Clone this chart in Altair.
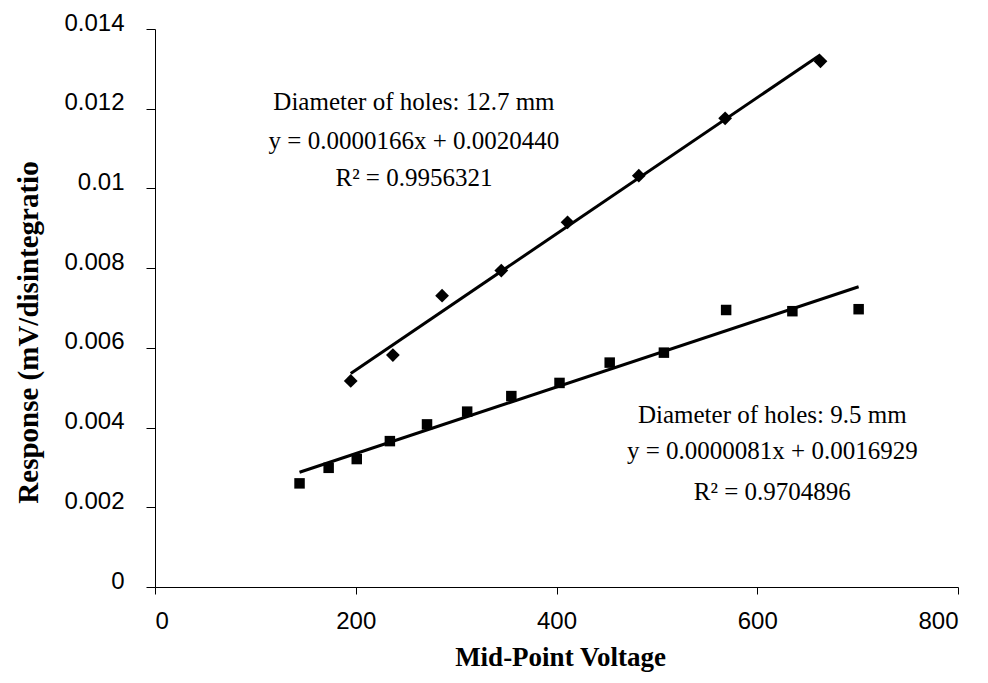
import altair as alt
import pandas as pd

# Series: Diameter of holes 12.7 mm (diamonds)
x_127 = [195, 237, 286, 345, 411, 482, 568, 663]
y_127 = [0.00517, 0.00582, 0.00731, 0.00794, 0.00915, 0.01032, 0.01176, 0.01319]

# Series: Diameter of holes 9.5 mm (squares)
x_95 = [144, 173, 201, 234, 271, 311, 355, 403, 453, 507, 569, 635, 701]
y_95 = [0.0026, 0.00299, 0.00321, 0.00366, 0.00408, 0.0044, 0.00479, 0.00512,
        0.00563, 0.00588, 0.00695, 0.00692, 0.00697]

x_ticks = [0, 200, 400, 600, 800]
y_ticks = [0, 0.002, 0.004, 0.006, 0.008, 0.01, 0.012, 0.014]

ann_text = [
    "Diameter of holes: 12.7 mm", "y = 0.0000166x + 0.0020440", "R² = 0.9956321",
    "Diameter of holes: 9.5 mm", "y = 0.0000081x + 0.0016929", "R² = 0.9704896",
]
ann_x = [258, 258, 258, 615, 615, 615]
ann_y = [0.01197, 0.01099, 0.01006, 0.00412, 0.00321, 0.00218]

df = pd.DataFrame({
    "x": x_127 + x_95,
    "y": y_127 + y_95,
    "series": ["12.7"] * len(x_127) + ["9.5"] * len(x_95),
})
ann = pd.DataFrame({"x": ann_x, "y": ann_y, "text": ann_text})

xs = alt.Scale(domain=[0, 800], nice=False, zero=False)
ys = alt.Scale(domain=[0, 0.014], nice=False)

x_axis = alt.Axis(values=x_ticks, grid=False, title="Mid-Point Voltage",
                  labelFont="Liberation Sans", labelFontSize=24, labelColor="black",
                  tickSize=7, labelPadding=15, tickColor="black", domainColor="black",
                  titleFont="Liberation Serif", titleFontSize=27, titleFontWeight="bold",
                  titleColor="black", titleX=405, titleY=78, titleBaseline="alphabetic",
                  titleAnchor="middle")
y_axis = alt.Axis(values=y_ticks, grid=False, format="~g", title="Response (mV/disintegratio",
                  labelFont="Liberation Sans", labelFontSize=24, labelColor="black",
                  tickSize=9, labelPadding=22, labelOffset=-6, tickColor="black",
                  domainColor="black",
                  titleFont="Liberation Serif", titleFontSize=29, titleFontWeight="bold",
                  titleColor="black", titleX=-127, titleY=303, titleBaseline="middle",
                  titleAnchor="middle", titleAngle=270)

X = alt.X("x:Q", scale=xs, axis=x_axis)
Y = alt.Y("y:Q", scale=ys, axis=y_axis)

base = alt.Chart(df)

pts_127 = base.transform_filter(alt.datum.series == "12.7").mark_point(
    shape="diamond", filled=True, color="black", size=190, opacity=1
).encode(x=X, y=Y)

pts_95 = base.transform_filter(alt.datum.series == "9.5").mark_point(
    shape="square", filled=True, color="black", size=110, opacity=1
).encode(x=X, y=Y)

fit_127 = base.transform_filter(alt.datum.series == "12.7").transform_regression(
    "x", "y"
).mark_line(color="black", strokeWidth=3).encode(x=X, y=Y)

fit_95 = base.transform_filter(alt.datum.series == "9.5").transform_regression(
    "x", "y"
).mark_line(color="black", strokeWidth=3).encode(x=X, y=Y)

labels = alt.Chart(ann).mark_text(
    font="Liberation Serif", fontSize=25, color="black", align="center", baseline="alphabetic"
).encode(x=X, y=Y, text="text:N")

chart = alt.layer(pts_127, pts_95, fit_127, fit_95, labels).properties(
    width=803, height=558,
    autosize=alt.AutoSizeParams(type="none"),
    padding={"left": 147, "top": 21, "right": 20, "bottom": 95},
).configure(
    background="white",
    view=alt.ViewConfig(stroke="transparent", strokeWidth=0),
)

chart.save("out.html", embed_options={"renderer": "svg", "actions": False})
